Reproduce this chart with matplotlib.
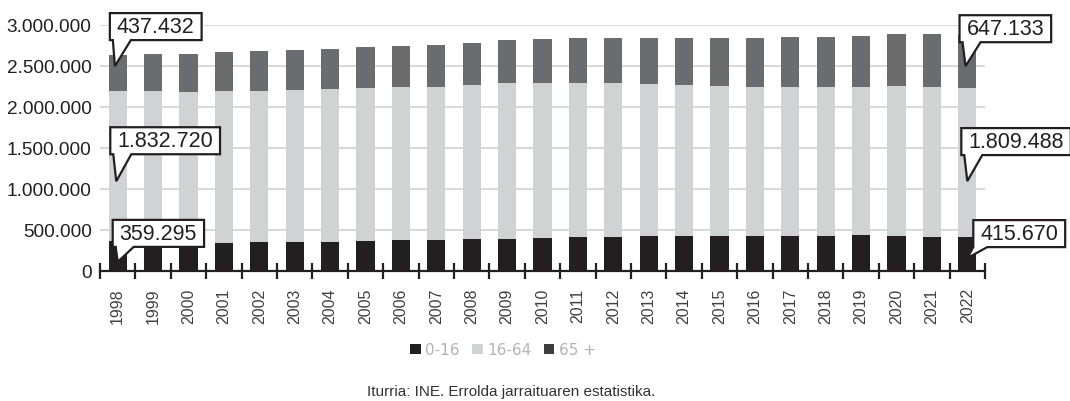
import matplotlib
matplotlib.use("Agg")
import matplotlib.pyplot as plt
from matplotlib.patches import Polygon, Patch
from matplotlib.transforms import IdentityTransform, offset_copy
from matplotlib.ticker import FuncFormatter, MultipleLocator
import numpy as np

years = [str(y) for y in range(1998, 2023)]
age_0_16 = [359295, 352000, 345000, 338000, 350000, 350000, 350000, 363000, 372000,
            379000, 391000, 391000, 403000, 415000, 415000, 427000, 427000, 427000,
            427000, 427000, 427000, 440000, 427000, 415000, 415670]
age_16_64 = [1832720, 1840000, 1834000, 1858000, 1846000, 1856000, 1868000, 1867000,
             1870000, 1863000, 1875000, 1900000, 1888000, 1876000, 1876000, 1852000,
             1839000, 1827000, 1815000, 1815000, 1815000, 1802000, 1827000, 1827000,
             1809488]
age_65 = [437432, 451000, 464000, 472000, 484000, 486000, 486000, 499000, 499000,
          512000, 512000, 524000, 536000, 548000, 548000, 560000, 573000, 585000,
          597000, 609000, 609000, 621000, 634000, 646000, 647133]
series_names = ["0-16", "16-64", "65 +"]
bar_colors = ["#231f20", "#d1d2d4", "#6b6c70"]
legend_colors = ["#231f20", "#d1d2d4", "#3d3d3d"]

plt.rcParams["font.family"] = ["Liberation Sans", "DejaVu Sans"]


def fmt(v):
    return f"{v:,.0f}".replace(",", ".")


def callout(fig, ax, x, y, text, dx, dy, tail=(3, 21)):
    # text box placed dx, dy pixels away from the tip, with a pointer tail
    tr = offset_copy(ax.transData, fig=fig, x=dx, y=dy, units="dots")
    t = ax.text(x, y, text, transform=tr, ha="left", va="bottom", fontsize=15.5,
                color="#231f20", zorder=7, clip_on=False)
    fig.canvas.draw()
    bb = t.get_window_extent()
    padx, pady = 7, 3
    x0, x1 = bb.x0 - padx, bb.x1 + padx
    y0, y1 = bb.y0 - pady, bb.y1 + pady
    tx, ty = ax.transData.transform((x, y))
    shift_x = (tx + dx) - x0
    shift_y = (ty + dy) - y0
    x0, x1, y0, y1 = x0 + shift_x, x1 + shift_x, y0 + shift_y, y1 + shift_y
    t.set_transform(offset_copy(ax.transData, fig=fig, x=dx + padx, y=dy + pady,
                                units="dots"))
    pts = [(x0, y0), (x0 + tail[0], y0), (tx, ty), (x0 + tail[1], y0), (x1, y0),
           (x1, y1), (x0, y1)]
    poly = Polygon(pts, closed=True, facecolor="white", edgecolor="#231f20",
                   linewidth=1.6, transform=IdentityTransform(), zorder=6,
                   clip_on=False, joinstyle="miter")
    ax.add_patch(poly)


fig = plt.figure(figsize=(10.7, 4.02), dpi=100)
ax = fig.add_axes([100 / 1070, 1 - 271.7 / 402, 885 / 1070, (271.7 - 26) / 402])

x = np.arange(len(years))
a = np.array(age_0_16)
b = np.array(age_16_64)
c = np.array(age_65)
ax.bar(x, a, width=0.51, color=bar_colors[0], zorder=3)
ax.bar(x, b, width=0.51, bottom=a, color=bar_colors[1], zorder=3)
ax.bar(x, c, width=0.51, bottom=a + b, color=bar_colors[2], zorder=3)

ax.set_xlim(-0.5, len(years) - 0.5)
ax.set_ylim(0, 3000000)
ax.yaxis.set_major_locator(MultipleLocator(500000))
ax.yaxis.set_major_formatter(FuncFormatter(lambda v, p: fmt(v)))
ax.grid(axis="y", color="#d9d9d9", linewidth=1.5, zorder=0)
ax.set_axisbelow(True)
for s in ["top", "right", "left"]:
    ax.spines[s].set_visible(False)
ax.spines["bottom"].set_linewidth(1.6)
ax.spines["bottom"].set_color("#231f20")
ax.spines["bottom"].set_zorder(4)
ax.tick_params(axis="y", length=0, pad=6, labelsize=13.7, labelcolor="#231f20")

ax.set_xticks(x)
ax.set_xticklabels(years, rotation=90, fontsize=11.5, color="#404040")
ax.tick_params(axis="x", which="major", length=0, pad=12)
ax.set_xticks(np.arange(-0.5, len(years)), minor=True)
ax.tick_params(axis="x", which="minor", direction="inout", length=12, width=1.6,
               color="#231f20")

# data callouts on the first and last year
callout(fig, ax, -0.08, a[0] + b[0] + 0.7 * c[0], fmt(c[0]), -5, 26)
callout(fig, ax, -0.04, a[0] + 0.4 * b[0], fmt(b[0]), -6, 27)
callout(fig, ax, 0.0, 0.3 * a[0], fmt(a[0]), -5, 15)
n = len(years) - 1
callout(fig, ax, n - 0.05, a[n] + b[n] + 0.42 * c[n], fmt(c[n]), -6, 24)
callout(fig, ax, n, a[n] + 0.375 * b[n], fmt(b[n]), -6, 26)
callout(fig, ax, n, 0.37 * a[n], fmt(a[n]), 6, 11, tail=(0, 14))

handles = [Patch(facecolor=col, edgecolor="none") for col in legend_colors]
fig.legend(handles, series_names, loc="center", bbox_to_anchor=(0.47, 0.127),
           ncol=3, frameon=False, handlelength=0.7, handleheight=0.7,
           handletextpad=0.3, columnspacing=0.8,
           prop={"family": "DejaVu Sans", "size": 11}, labelcolor="#b3b3b3")

fig.text(0.478, 0.025, "Iturria: INE. Errolda jarraituaren estatistika.",
         ha="center", va="center", fontsize=11, color="#333333")

fig.savefig("out.png", dpi=100)
